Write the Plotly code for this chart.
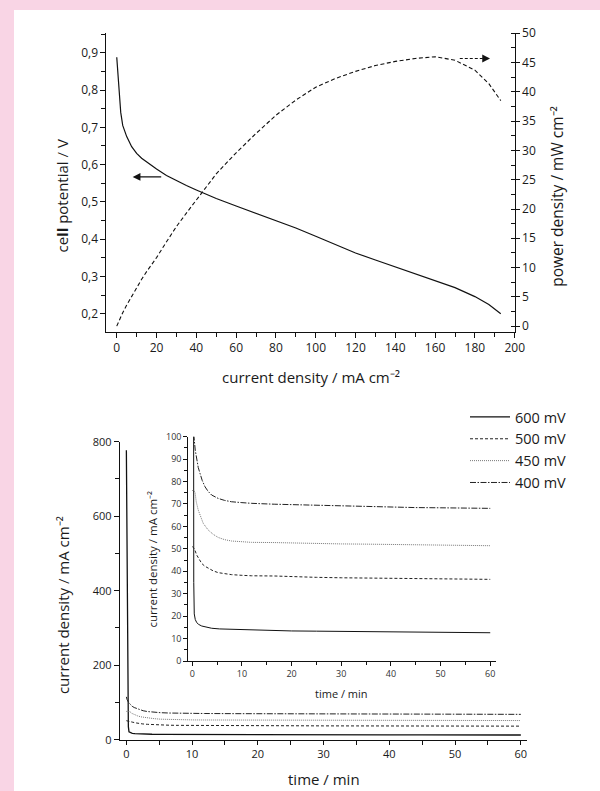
import plotly.graph_objects as go

# ---------------- data: polarisation curve (top panel) ----------------
current_density = [0, 1, 2, 3, 5, 7.5, 10, 12.5, 15, 20, 25, 30, 35, 40, 45, 50,
                   60, 70, 80, 90, 100, 110, 120, 130, 140, 150, 160, 170, 180, 187, 193]
cell_potential = [0.888, 0.80, 0.74, 0.705, 0.675, 0.648, 0.630, 0.617, 0.607, 0.588,
                  0.571, 0.557, 0.544, 0.532, 0.520, 0.509, 0.489, 0.470, 0.450, 0.430,
                  0.408, 0.385, 0.363, 0.344, 0.326, 0.308, 0.290, 0.270, 0.246, 0.225, 0.200]
power_density = [0, 0.8, 1.6, 2.3, 3.6, 5.1, 6.6, 8.0, 9.3, 11.7, 14.4, 17.0, 19.3, 21.5,
                 23.8, 26.0, 29.6, 32.9, 36.0, 38.6, 40.8, 42.3, 43.5, 44.5, 45.2, 45.7,
                 46.0, 45.4, 43.7, 41.4, 38.5]

# ---------------- data: chronoamperometry (bottom panel + inset) ----------------
t_600 = [0, 0.1, 0.2, 0.3, 0.4, 0.6, 0.9, 1.3, 1.9, 2.8, 3.9, 5.5, 7.9, 11.9, 16.5,
         20, 25, 30, 35, 40, 45, 50, 55, 60]
j_600 = [777, 400, 120, 35, 21, 18.5, 17.1, 16.3, 15.6, 15.0, 14.6, 14.3, 14.1, 13.8,
         13.5, 13.4, 13.3, 13.2, 13.1, 13.0, 12.9, 12.8, 12.7, 12.6]

t_500 = [0, 0.4, 0.88, 1.4, 1.9, 2.5, 3.2, 4.2, 5.2, 6.5, 7.9, 10, 11.9, 16.5, 20, 25,
         30, 35, 40, 45, 50, 55, 60]
j_500 = [51, 50.2, 47.3, 45.2, 43.5, 42.3, 41.3, 40.2, 39.4, 38.9, 38.5, 38.2, 38.0,
         37.9, 37.6, 37.3, 37.1, 37.0, 36.9, 36.8, 36.6, 36.5, 36.4]

t_450 = [0, 0.2, 0.54, 0.8, 1.2, 1.7, 2.2, 3.2, 4.2, 5.2, 6.5, 7.9, 10, 11.9, 16.5, 20,
         25, 30, 35, 40, 45, 50, 55, 60]
j_450 = [76, 76, 75.5, 71, 67.3, 64, 61.4, 58.4, 56.5, 55.1, 54.1, 53.5, 53.1, 52.9,
         52.8, 52.6, 52.4, 52.2, 52.1, 52.0, 51.9, 51.8, 51.6, 51.4]

t_400 = [0, 0.1, 0.34, 0.6, 0.88, 1.2, 1.55, 2, 2.56, 3.2, 3.9, 5.2, 6.5, 7.9, 10, 11.9,
         16.5, 20, 25, 30, 35, 40, 45, 50, 55, 60]
j_400 = [115, 108, 100, 94, 89.6, 86.3, 83.7, 80.5, 77.7, 75.6, 74, 72.5, 71.6, 71,
         70.6, 70.3, 69.9, 69.7, 69.4, 69.1, 68.8, 68.6, 68.4, 68.3, 68.2, 68.05]

series_names = ["600 mV", "500 mV", "450 mV", "400 mV"]
series_t = [t_600, t_500, t_450, t_400]
series_j = [j_600, j_500, j_450, j_400]

# ---------------- styling ----------------
W, H = 600, 791
FONT = "Open Sans"
TXT = "#1a1a1a"
PINK = "#f9d5e5"
line_styles = [
    dict(color="#111111", width=1.3, dash="solid"),
    dict(color="#222222", width=1.0, dash="3px,2px"),
    dict(color="#777777", width=1.0, dash="1px,1px"),
    dict(color="#222222", width=1.0, dash="6px,1.5px,1.5px,1.5px"),
]


def px_x(p):
    return p / W


def px_y(p):
    return 1 - p / H


fig = go.Figure()

# top panel
fig.add_trace(go.Scatter(x=current_density, y=cell_potential, mode="lines",
                         line=dict(color="#111111", width=1.2), showlegend=False,
                         xaxis="x", yaxis="y"))
fig.add_trace(go.Scatter(x=current_density, y=power_density, mode="lines",
                         line=dict(color="#111111", width=1.1, dash="4px,2.5px"),
                         showlegend=False, xaxis="x", yaxis="y2"))

# bottom main panel
for name, t, j, st in zip(series_names, series_t, series_j, line_styles):
    fig.add_trace(go.Scatter(x=t, y=j, mode="lines", name=name, line=st,
                             xaxis="x2", yaxis="y3"))
# inset
for name, t, j, st in zip(series_names, series_t, series_j, line_styles):
    st2 = dict(st)
    st2["width"] = 1.0
    fig.add_trace(go.Scatter(x=t, y=j, mode="lines", name=name, line=st2,
                             showlegend=False, xaxis="x3", yaxis="y4"))

axis_common = dict(showline=True, linecolor="#111111", linewidth=1, showgrid=False,
                   zeroline=False, ticks="outside", tickcolor="#111111", tickwidth=1,
                   automargin=False)

fig.update_layout(
    template="none",
    width=W, height=H,
    margin=dict(l=0, r=0, t=0, b=0, pad=0, autoexpand=False),
    paper_bgcolor=PINK,
    plot_bgcolor="rgba(0,0,0,0)",
    separators=", ",
    font=dict(family=FONT, color=TXT, size=12),
    showlegend=True,
    legend=dict(x=px_x(465), y=px_y(401), xanchor="left", yanchor="top",
                font=dict(size=14.5, family=FONT, color=TXT), bgcolor="rgba(0,0,0,0)",
                borderwidth=0, itemwidth=40, tracegroupgap=0),
    # top panel
    xaxis=dict(axis_common, domain=[px_x(106.4), px_x(514.7)], range=[-5.2, 200],
               anchor="y", tickvals=list(range(0, 201, 20)), ticklen=5,
               minor=dict(dtick=10, ticklen=4, ticks="outside", tickcolor="#111111"),
               tickfont=dict(size=12, color=TXT)),
    yaxis=dict(axis_common, domain=[px_y(332), px_y(33)], range=[0.151, 0.953],
               anchor="x", tickvals=[0.2, 0.3, 0.4, 0.5, 0.6, 0.7, 0.8, 0.9],
               tickformat=".1f", ticklen=5,
               minor=dict(dtick=0.05, ticklen=4, ticks="outside", tickcolor="#111111"),
               tickfont=dict(size=12, color=TXT)),
    yaxis2=dict(axis_common, overlaying="y", side="right", anchor="x",
                range=[-1.0, 50.05], tickvals=list(range(0, 51, 5)), ticklen=4,
                minor=dict(dtick=2.5, ticklen=4, ticks="inside", tickcolor="#111111"),
                tickfont=dict(size=12, color=TXT)),
    # bottom main panel
    xaxis2=dict(axis_common, domain=[px_x(119.8), px_x(527.4)], range=[-1, 61],
                anchor="y3", tickvals=list(range(0, 61, 10)), ticklen=4,
                minor=dict(dtick=5, ticklen=4, ticks="outside", tickcolor="#111111"),
                tickfont=dict(size=11, color=TXT)),
    yaxis3=dict(axis_common, domain=[px_y(739.7), px_y(441.7)], range=[0, 800],
                anchor="x2", tickvals=[0, 200, 400, 600, 800], ticklen=5,
                minor=dict(dtick=100, ticklen=4, ticks="outside", tickcolor="#111111"),
                tickfont=dict(size=11, color=TXT)),
    # inset
    xaxis3=dict(axis_common, domain=[px_x(188.3), px_x(495.7)], range=[-0.8, 61.1],
                anchor="y4", tickvals=list(range(0, 61, 10)), ticklen=4,
                minor=dict(dtick=5, ticklen=3, ticks="outside", tickcolor="#111111"),
                tickfont=dict(size=9, color="#333333")),
    yaxis4=dict(axis_common, domain=[px_y(661), px_y(436.7)], range=[0, 100],
                anchor="x3", tickvals=list(range(0, 101, 10)), ticklen=4,
                minor=dict(dtick=5, ticklen=3, ticks="outside", tickcolor="#111111"),
                tickfont=dict(size=9, color="#333333")),
)

# white panel over pink frame
fig.add_shape(type="rect", xref="paper", yref="paper", x0=px_x(14), x1=1,
              y0=0, y1=px_y(10), fillcolor="white", line=dict(width=0), layer="below")

# dashed arrow body (power density -> right axis)
fig.add_shape(type="line", xref="x", yref="y2", x0=172.4, x1=184.5, y0=45.7, y1=45.7,
              line=dict(color="#111111", width=1.1, dash="3px,2px"))

annotations = [
    # arrow to left axis
    dict(x=8.0, y=0.567, ax=23.1, ay=0.567, xref="x", yref="y", axref="x", ayref="y",
         text="", font=dict(size=12), showarrow=True, arrowhead=2, arrowsize=1.3,
         arrowwidth=1.2, arrowcolor="#111111"),
    # arrow head to right axis
    dict(x=187.6, y=45.7, ax=183.5, ay=45.7, xref="x", yref="y2", axref="x", ayref="y2",
         text="", font=dict(size=12), showarrow=True, arrowhead=2, arrowsize=1.3,
         arrowwidth=1.2, arrowcolor="#111111"),
    # axis titles
    dict(x=px_x(310.5), y=px_y(376.7), xref="paper", yref="paper", showarrow=False,
         text="current density / mA cm⁻²", font=dict(size=15, color=TXT),
         xanchor="center", yanchor="middle"),
    dict(x=px_x(61.5), y=px_y(196), xref="paper", yref="paper", showarrow=False,
         text="ce<b>ll</b> potential / V", font=dict(size=15, color=TXT), textangle=-90,
         xanchor="center", yanchor="middle"),
    dict(x=px_x(556.8), y=px_y(196), xref="paper", yref="paper", showarrow=False,
         text="power density / mW cm⁻²", font=dict(size=15.5, color=TXT),
         textangle=-90, xanchor="center", yanchor="middle"),
    dict(x=px_x(323.5), y=px_y(779), xref="paper", yref="paper", showarrow=False,
         text="time / min", font=dict(size=15, color=TXT), xanchor="center",
         yanchor="middle"),
    dict(x=px_x(63.1), y=px_y(605), xref="paper", yref="paper", showarrow=False,
         text="current density / mA cm⁻²", font=dict(size=15, color=TXT),
         textangle=-90, xanchor="center", yanchor="middle"),
    dict(x=px_x(341.7), y=px_y(693), xref="paper", yref="paper", showarrow=False,
         text="time / min", font=dict(size=11, color=TXT), xanchor="center",
         yanchor="middle"),
    dict(x=px_x(151.5), y=px_y(559), xref="paper", yref="paper", showarrow=False,
         text="current density / mA cm⁻²", font=dict(size=11.5, color=TXT),
         textangle=-90, xanchor="center", yanchor="middle"),
]
fig.update_layout(annotations=annotations)

fig.write_html(
    "out.html",
    config={"displayModeBar": False},
    post_script="document.body.style.margin='0px';document.body.style.padding='0px';"
                "document.body.style.overflow='hidden';",
)
